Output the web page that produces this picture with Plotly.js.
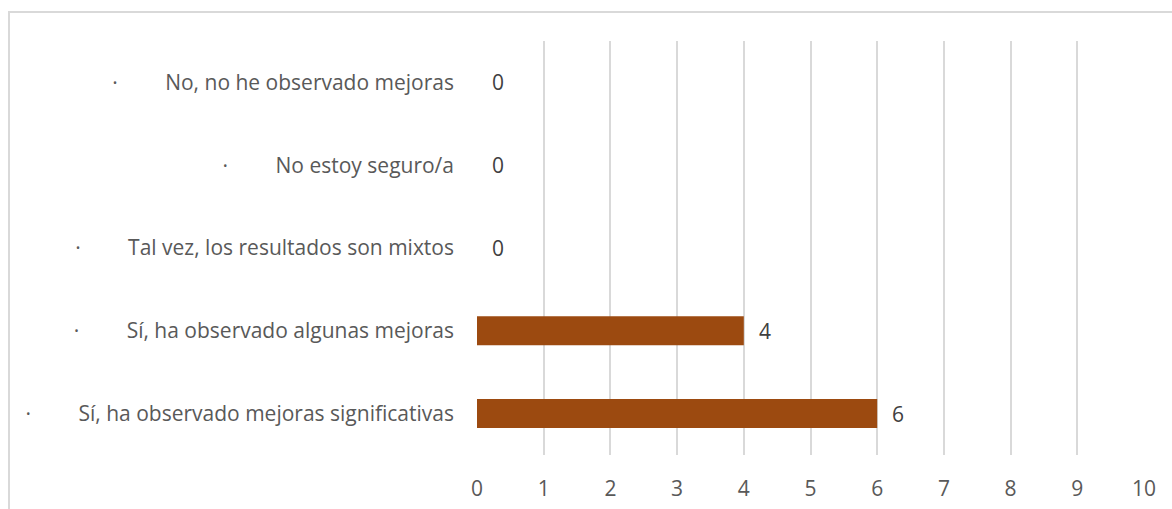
<!DOCTYPE html>
<html>
<head>
<meta charset="utf-8">
<script src="https://cdn.plot.ly/plotly-3.0.1.min.js"></script>
<style>
  html, body { margin: 0; padding: 0; background: #fff; overflow: hidden; }
  #wrap { position: relative; width: 1172px; height: 509px; }
  #chart { position: absolute; left: 0; top: 0; width: 1172px; height: 509px; }
  #frame { position: absolute; left: 8px; top: 11px; width: 1200px; height: 600px;
           border-top: 2px solid #d9d9d9; border-left: 2px solid #d9d9d9;
           pointer-events: none; box-sizing: border-box; }
</style>
</head>
<body>
<div id="wrap">
  <div id="chart"></div>
  <div id="frame"></div>
</div>
<script>
const categories = [
  "Sí, ha observado mejoras significativas",
  "Sí, ha observado algunas mejoras",
  "Tal vez, los resultados son mixtos",
  "No estoy seguro/a",
  "No, no he observado mejoras"
];
const values = [6, 4, 0, 0, 0];
const xTicks = [0, 1, 2, 3, 4, 5, 6, 7, 8, 9, 10];

const labelPrefix = "·\u2003\u2003\u00A0";
const tickText = categories.map(c => labelPrefix + c);

const trace = {
  type: "bar",
  orientation: "h",
  y: categories,
  x: values,
  marker: { color: "#9C4A10" },
  width: 0.35,
  hoverinfo: "x+y"
};

const annotations = categories.map((c, i) => ({
  x: values[i], y: c, xref: "x", yref: "y",
  text: String(values[i]), showarrow: false,
  xanchor: "left", xshift: 13,
  font: { family: "Open Sans, sans-serif", size: 21, color: "#404040" }
}));

const layout = {
  width: 1172, height: 509,
  margin: { l: 477, r: 28, t: 41, b: 54 },
  paper_bgcolor: "#ffffff",
  plot_bgcolor: "#ffffff",
  showlegend: false,
  font: { family: "Open Sans, sans-serif", size: 21, color: "#595959" },
  xaxis: {
    range: [0, 10],
    tickvals: xTicks,
    ticktext: xTicks.map(String),
    showgrid: true, gridcolor: "#d9d9d9", gridwidth: 2,
    zeroline: false, showline: false, ticks: "",
    ticklabelstandoff: 19,
    tickfont: { size: 21, color: "#595959" },
    fixedrange: true
  },
  yaxis: {
    type: "category",
    tickvals: categories,
    ticktext: tickText,
    showgrid: false, zeroline: false, showline: false, ticks: "",
    ticklabelstandoff: 22,
    tickfont: { size: 21, color: "#595959" },
    fixedrange: true
  },
  annotations: annotations
};

Plotly.newPlot("chart", [trace], layout, { displayModeBar: false, staticPlot: true });
</script>
</body>
</html>
